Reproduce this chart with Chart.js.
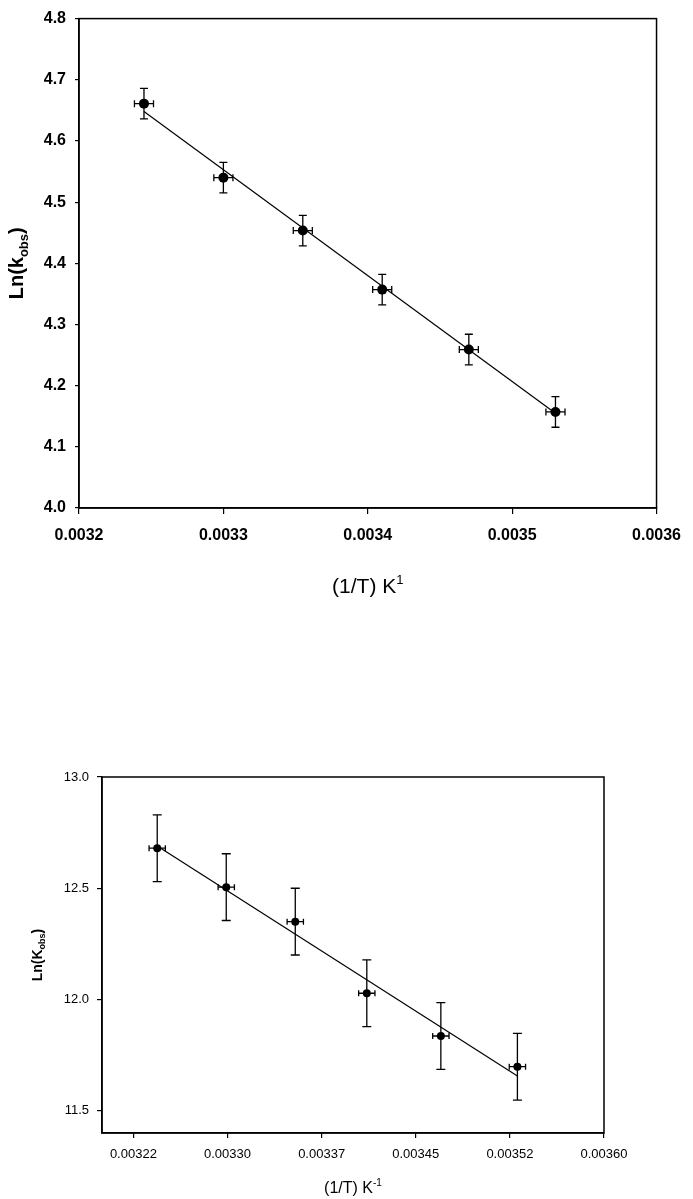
<!DOCTYPE html>
<html><head><meta charset="utf-8">
<script src="https://cdn.jsdelivr.net/npm/chart.js@4"></script>
<style>
html,body{margin:0;padding:0;background:#fff;}
#w1{position:absolute;left:0;top:0;width:693px;height:600px;}
#w2{position:absolute;left:0;top:760px;width:693px;height:439px;}
</style></head><body>
<div id="w1"><canvas id="c1"></canvas></div>
<div id="w2"><canvas id="c2"></canvas></div>
<script>
// ---------- Top chart data ----------
const invTTop = [0.003245, 0.00330, 0.003355, 0.00341, 0.00347, 0.00353];
const invTTopErr = [0.0000066, 0.0000066, 0.0000066, 0.0000066, 0.0000066, 0.0000066];
const lnKobsTop = [4.661, 4.540, 4.4535, 4.357, 4.259, 4.157];
const lnKobsTopErr = [0.025, 0.025, 0.025, 0.025, 0.025, 0.025];
const fitTopX = [0.003245, 0.00353];
const fitTopY = [4.648, 4.155];
const topXTicks = [0.0032, 0.0033, 0.0034, 0.0035, 0.0036];
const topXTickLabels = ['0.0032', '0.0033', '0.0034', '0.0035', '0.0036'];
const topYTicks = [4.0, 4.1, 4.2, 4.3, 4.4, 4.5, 4.6, 4.7, 4.8];
const topYTickLabels = ['4.0', '4.1', '4.2', '4.3', '4.4', '4.5', '4.6', '4.7', '4.8'];
const topYTitle = ['Ln(k', 'obs', ')'];
const topXTitle = ['(1/T) K', '1'];

// ---------- Bottom chart data ----------
const invTBottom = [0.003244, 0.003299, 0.003354, 0.003411, 0.00347, 0.003531];
const invTBottomErr = [0.0000065, 0.0000065, 0.0000065, 0.0000065, 0.0000065, 0.0000065];
const lnKobsBottom = [12.68, 12.505, 12.35, 12.028, 11.836, 11.698];
const lnKobsBottomErr = [0.15, 0.15, 0.15, 0.15, 0.15, 0.15];
const fitBottomX = [0.003244, 0.003531];
const fitBottomY = [12.69, 11.656];
const bottomXTicks = [0.003225, 0.0033, 0.003375, 0.00345, 0.003525, 0.0036];
const bottomXTickLabels = ['0.00322', '0.00330', '0.00337', '0.00345', '0.00352', '0.00360'];
const bottomYTicks = [11.5, 12.0, 12.5, 13.0];
const bottomYTickLabels = ['11.5', '12.0', '12.5', '13.0'];
const bottomYTitle = ['Ln(K', 'obs', ')'];
const bottomXTitle = ['(1/T) K', '-1'];

const FAM = '"Liberation Sans", Arial, Helvetica, sans-serif';

function drawRich(ctx, parts, cx, cy, rotate) {
  ctx.save();
  ctx.translate(cx, cy);
  if (rotate) ctx.rotate(-Math.PI / 2);
  let total = 0;
  parts.forEach(p => { ctx.font = p.weight + ' ' + p.size + 'px ' + FAM; p.w = ctx.measureText(p.text).width; total += p.w; });
  let x = -total / 2;
  ctx.fillStyle = '#000';
  ctx.textAlign = 'left';
  ctx.textBaseline = 'alphabetic';
  const base = parts[0].size * 0.36;
  parts.forEach(p => { ctx.font = p.weight + ' ' + p.size + 'px ' + FAM; ctx.fillText(p.text, x, base + p.dy); x += p.w; });
  ctx.restore();
}

function makeDecor(cfg) {
  return {
    id: 'decor_' + cfg.name,
    afterDatasetsDraw(chart) {
      const {ctx, chartArea, scales} = chart;
      const xs = scales.x, ys = scales.y;
      ctx.save();
      ctx.strokeStyle = '#000';
      ctx.lineWidth = cfg.errLW;
      cfg.xData.forEach((xv, i) => {
        const yv = cfg.yData[i];
        const px = xs.getPixelForValue(xv), py = ys.getPixelForValue(yv);
        const y1 = ys.getPixelForValue(yv + cfg.yErr[i]), y2 = ys.getPixelForValue(yv - cfg.yErr[i]);
        const x1 = xs.getPixelForValue(xv - cfg.xErr[i]), x2 = xs.getPixelForValue(xv + cfg.xErr[i]);
        ctx.beginPath();
        ctx.moveTo(px, y1); ctx.lineTo(px, y2);
        ctx.moveTo(px - cfg.capV, y1); ctx.lineTo(px + cfg.capV, y1);
        ctx.moveTo(px - cfg.capV, y2); ctx.lineTo(px + cfg.capV, y2);
        ctx.moveTo(x1, py); ctx.lineTo(x2, py);
        ctx.moveTo(x1, py - cfg.capH); ctx.lineTo(x1, py + cfg.capH);
        ctx.moveTo(x2, py - cfg.capH); ctx.lineTo(x2, py + cfg.capH);
        ctx.stroke();
      });
      ctx.restore();
    },
    afterDraw(chart) {
      const {ctx, chartArea} = chart;
      ctx.save();
      ctx.strokeStyle = '#000';
      ctx.lineWidth = cfg.boxLW;
      ctx.strokeRect(chartArea.left, chartArea.top, chartArea.right - chartArea.left, chartArea.bottom - chartArea.top);
      ctx.restore();
      drawRich(ctx, cfg.yTitleParts, cfg.yTitleX, (chartArea.top + chartArea.bottom) / 2, true);
      drawRich(ctx, cfg.xTitleParts, (chartArea.left + chartArea.right) / 2, chartArea.bottom + cfg.xTitleOff, false);
    }
  };
}

function toPts(xa, ya) { return xa.map((v, i) => ({x: v, y: ya[i]})); }

function buildChart(canvasId, c) {
  return new Chart(document.getElementById(canvasId), {
    type: 'scatter',
    data: {
      datasets: [
        {data: toPts(c.fitX, c.fitY), showLine: true, pointRadius: 0, borderColor: '#000', borderWidth: c.lineW, fill: false},
        {data: toPts(c.xData, c.yData), pointRadius: c.ptR, pointBackgroundColor: '#000', pointBorderColor: '#000', pointBorderWidth: 0}
      ]
    },
    options: {
      responsive: true, maintainAspectRatio: false, animation: false, devicePixelRatio: 1,
      layout: {padding: c.padding},
      plugins: {legend: {display: false}, tooltip: {enabled: false}},
      scales: {
        x: {
          type: 'linear', position: 'bottom', min: c.xMin, max: c.xMax,
          afterBuildTicks: s => { s.ticks = c.xTicks.map(v => ({value: v})); },
          afterFit: s => { s.height = c.xAxisH; },
          ticks: {callback: (v, i) => c.xTickLabels[i], color: '#000', padding: c.xTickPad, maxRotation: 0, autoSkip: false,
                  font: {family: FAM, size: c.tickSize, weight: c.tickWeight}},
          grid: {drawOnChartArea: false, drawTicks: true, tickLength: c.xTickLen, color: '#000', lineWidth: 1.2},
          border: {display: true, color: '#000', width: c.boxLW},
          title: {display: false}
        },
        y: {
          type: 'linear', position: 'left', min: c.yMin, max: c.yMax,
          afterBuildTicks: s => { s.ticks = c.yTicks.map(v => ({value: v})); },
          afterFit: s => { s.width = c.yAxisW; },
          ticks: {callback: (v, i) => c.yTickLabels[i], color: '#000', padding: c.yTickPad, autoSkip: false,
                  font: {family: FAM, size: c.tickSize, weight: c.tickWeight}},
          grid: {drawOnChartArea: false, drawTicks: true, tickLength: c.yTickLen, color: '#000', lineWidth: 1.2},
          border: {display: true, color: '#000', width: c.boxLW},
          title: {display: false}
        }
      }
    },
    plugins: [makeDecor(c)]
  });
}

buildChart('c1', {
  name: 'top',
  xData: invTTop, yData: lnKobsTop, xErr: invTTopErr, yErr: lnKobsTopErr,
  fitX: fitTopX, fitY: fitTopY,
  xMin: 0.0032, xMax: 0.0036, yMin: 4.0, yMax: 4.8,
  xTicks: topXTicks, xTickLabels: topXTickLabels, yTicks: topYTicks, yTickLabels: topYTickLabels,
  padding: {top: 12, right: 29, left: 0, bottom: 0},
  xAxisH: 92, yAxisW: 79,
  tickSize: 16, tickWeight: 'bold', xTickPad: 12, yTickPad: 9, xTickLen: 6, yTickLen: 4,
  boxLW: 1.5, lineW: 1.2, ptR: 5, errLW: 1.3, capV: 4, capH: 3.5,
  yTitleX: 16, xTitleOff: 77,
  yTitleParts: [{text: topYTitle[0], size: 20, weight: 'bold', dy: 0}, {text: topYTitle[1], size: 13, weight: 'bold', dy: 5}, {text: topYTitle[2], size: 20, weight: 'bold', dy: 0}],
  xTitleParts: [{text: topXTitle[0], size: 21, weight: 'normal', dy: 0}, {text: topXTitle[1], size: 13, weight: 'normal', dy: -9}]
});

buildChart('c2', {
  name: 'bottom',
  xData: invTBottom, yData: lnKobsBottom, xErr: invTBottomErr, yErr: lnKobsBottomErr,
  fitX: fitBottomX, fitY: fitBottomY,
  xMin: 0.0032, xMax: 0.0036, yMin: 11.4, yMax: 13.0,
  xTicks: bottomXTicks, xTickLabels: bottomXTickLabels, yTicks: bottomYTicks, yTickLabels: bottomYTickLabels,
  padding: {top: 17, right: 89, left: 0, bottom: 0},
  xAxisH: 66, yAxisW: 102,
  tickSize: 13, tickWeight: 'normal', xTickPad: 9, yTickPad: 8, xTickLen: 5, yTickLen: 5,
  boxLW: 1.5, lineW: 1.2, ptR: 4, errLW: 1.3, capV: 4.5, capH: 3,
  yTitleX: 37, xTitleOff: 54,
  yTitleParts: [{text: bottomYTitle[0], size: 14, weight: 'bold', dy: 0}, {text: bottomYTitle[1], size: 9, weight: 'bold', dy: 3}, {text: bottomYTitle[2], size: 14, weight: 'bold', dy: 0}],
  xTitleParts: [{text: bottomXTitle[0], size: 16, weight: 'normal', dy: 0}, {text: bottomXTitle[1], size: 10, weight: 'normal', dy: -7}]
});
</script>
</body></html>
